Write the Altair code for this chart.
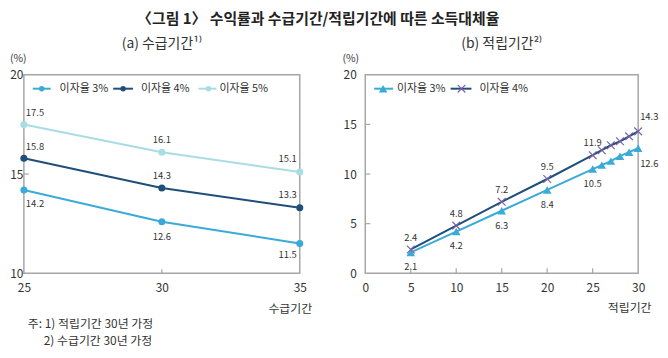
import altair as alt
import pandas as pd

FONT = "Noto Sans CJK KR"
TXT = "#333333"
GRAY = "#A6A6A6"
WA, WB, H = 278, 275, 200

# ---------------- data ----------------
title_text = "〈그림 1〉 수익률과 수급기간/적립기간에 따른 소득대체율"

# panel (a)
a_title = "(a) 수급기간¹⁾"
a_xtitle = "수급기간"
a_x = [25, 30, 35]
a_series = ["이자율 3%", "이자율 4%", "이자율 5%"]
a_3 = [14.2, 12.6, 11.5]
a_4 = [15.8, 14.3, 13.3]
a_5 = [17.5, 16.1, 15.1]
a_colors = ["#3AAAD8", "#1F4E7A", "#A8DDE3"]
a_xticks = [25, 30, 35]
a_yticks = [10, 15, 20]

# panel (b)
b_title = "(b) 적립기간²⁾"
b_xtitle = "적립기간"
b_x = [5, 10, 15, 20, 25, 26, 27, 28, 29, 30]
b_series = ["이자율 3%", "이자율 4%"]
b_3 = [2.1, 4.2, 6.3, 8.4, 10.5, 10.9, 11.3, 11.8, 12.2, 12.6]
b_4 = [2.4, 4.8, 7.2, 9.5, 11.9, 12.4, 12.9, 13.3, 13.8, 14.3]
b_labeled = [5, 10, 15, 20, 25, 30]
b_line_colors = ["#3AAAD8", "#1F4E7A"]
b_marker_colors = ["#3AAAD8", "#7B62A8"]
b_xticks = [0, 5, 10, 15, 20, 25, 30]
b_yticks = [0, 5, 10, 15, 20]

notes = ["주: 1) 적립기간 30년 가정", "2) 수급기간 30년 가정"]
unit = "(%)"

X_PATH = "M-1,-1L1,1M-1,1L1,-1"


def enc_x(domain, ticks, title, w, tdx, ty):
    return alt.X("x:Q", scale=alt.Scale(domain=domain, nice=False, zero=False),
                 axis=alt.Axis(values=ticks, title=title, format="d",
                               titleX=w + tdx, titleY=ty, titleAlign="right",
                               titleBaseline="middle", labelPadding=14,
                               labelBaseline="middle", labelFlush=False))


def enc_y(domain, ticks, pad):
    return alt.Y("y:Q", scale=alt.Scale(domain=domain, nice=False, zero=False),
                 axis=alt.Axis(values=ticks, title=None, format="d",
                               labelPadding=pad, labelBaseline="middle"))


def one(label):
    return pd.DataFrame({"t": [label]})


def txt_layer(label, x, y, size=11, align="left"):
    return alt.Chart(one(label)).mark_text(
        font=FONT, fontSize=size, color=TXT, align=align, baseline="middle"
    ).encode(text="t:N", x=alt.value(x), y=alt.value(y))


# ---------------- panel (a) ----------------
rows = []
for s, vals in zip(a_series, [a_3, a_4, a_5]):
    for xv, yv in zip(a_x, vals):
        h = "l" if xv == min(a_x) else ("r" if xv == max(a_x) else "c")
        v = "b" if s == a_series[0] else "a"
        rows.append({"x": xv, "y": yv, "series": s, "lab": f"{yv:.1f}", "pos": v + h})
a_df = pd.DataFrame(rows)

ax = enc_x([25, 35], a_xticks, a_xtitle, WA, 12, 36)
ay = enc_y([10, 20], a_yticks, 1)
a_col = alt.Color("series:N", scale=alt.Scale(domain=a_series, range=a_colors), legend=None)

a_base = alt.Chart(a_df)
a_layers = [
    a_base.mark_line(strokeWidth=2).encode(x=ax, y=ay, color=a_col, detail="series:N"),
    a_base.mark_circle(size=50, opacity=1).encode(x=ax, y=ay, color=a_col),
]
a_pos = {"al": ("left", 2, -11), "ac": ("center", 0, -12), "ar": ("right", -3, -13),
         "bl": ("left", 2, 14), "bc": ("center", 0, 15), "br": ("right", -3, 12)}
for p, (al, dx, dy) in a_pos.items():
    a_layers.append(
        a_base.transform_filter(alt.datum.pos == p).mark_text(
            font=FONT, fontSize=9.5, color=TXT, align=al, dx=dx, dy=dy, baseline="middle"
        ).encode(x=ax, y=ay, text="lab:N"))
# inward ticks
a_layers.append(alt.Chart(pd.DataFrame({"y": a_yticks[1:-1]})).mark_rule(color=GRAY, strokeWidth=1.2)
                .encode(y=ay, x=alt.value(0), x2=alt.value(5)))
a_layers.append(alt.Chart(pd.DataFrame({"x": a_xticks[1:-1]})).mark_rule(color=GRAY, strokeWidth=1.2)
                .encode(x=ax, y=alt.value(H), y2=alt.value(H - 4)))
# legend
a_leg = [(9, 27, 18, 34), (90, 110, 100, 116), (176, 194, 186, 195)]
for s, c, (x1, x2, xm, xt) in zip(a_series, a_colors, a_leg):
    a_layers.append(alt.Chart(one(s)).mark_rule(color=c, strokeWidth=2)
                    .encode(x=alt.value(x1), x2=alt.value(x2), y=alt.value(14)))
    a_layers.append(alt.Chart(one(s)).mark_circle(color=c, size=30, opacity=1)
                    .encode(x=alt.value(xm), y=alt.value(14)))
    a_layers.append(txt_layer(s, xt + 2, 14, 11))
# texts
a_layers.append(txt_layer(a_title, WA / 2, -31, 14, "center"))
a_layers.append(txt_layer(unit, -14, -16, 10.5))
a_layers.append(txt_layer(notes[0], 4, H + 51, 12))
a_layers.append(txt_layer(notes[1], 20, H + 68, 12))

left = alt.layer(*a_layers).properties(width=WA, height=H)

# ---------------- panel (b) ----------------
rows = []
for s, vals in zip(b_series, [b_3, b_4]):
    for xv, yv in zip(b_x, vals):
        h = "l" if xv == max(b_x) else "c"
        v = "b" if s == b_series[0] else "a"
        rows.append({"x": xv, "y": yv, "series": s,
                     "lab": f"{yv:.1f}" if xv in b_labeled else "", "pos": v + h})
b_df = pd.DataFrame(rows)

bx = enc_x([0, 30], b_xticks, b_xtitle, WB, 13, 35)
by = enc_y([0, 20], b_yticks, 9)
b_col = alt.Color("series:N", scale=alt.Scale(domain=b_series, range=b_line_colors), legend=None)

b_base = alt.Chart(b_df)
b_layers = [
    b_base.mark_line(strokeWidth=2).encode(x=bx, y=by, color=b_col, detail="series:N"),
    b_base.transform_filter(alt.datum.series == b_series[0]).mark_point(
        shape="triangle-up", filled=True, size=75, opacity=1, color=b_marker_colors[0]
    ).encode(x=bx, y=by),
    b_base.transform_filter(alt.datum.series == b_series[1]).mark_point(
        shape=X_PATH, filled=False, size=60, opacity=1, strokeWidth=1.2, color=b_marker_colors[1]
    ).encode(x=bx, y=by),
]
b_pos = {"ac": ("center", 0, -12), "al": ("left", 2, -14),
         "bc": ("center", 0, 15), "bl": ("left", 2, 16)}
for p, (al, dx, dy) in b_pos.items():
    b_layers.append(
        b_base.transform_filter(alt.datum.pos == p).mark_text(
            font=FONT, fontSize=9.5, color=TXT, align=al, dx=dx, dy=dy, baseline="middle"
        ).encode(x=bx, y=by, text="lab:N"))
b_layers.append(alt.Chart(pd.DataFrame({"y": b_yticks[1:-1]})).mark_rule(color=GRAY, strokeWidth=1.2)
                .encode(y=by, x=alt.value(0), x2=alt.value(5)))
b_layers.append(alt.Chart(pd.DataFrame({"x": b_xticks[1:-1]})).mark_rule(color=GRAY, strokeWidth=1.2)
                .encode(x=bx, y=alt.value(H), y2=alt.value(H - 5)))
# legend
b_leg = [(9, 28, 18, 30), (86, 107, 97, 113)]
for i, (s, (x1, x2, xm, xt)) in enumerate(zip(b_series, b_leg)):
    b_layers.append(alt.Chart(one(s)).mark_rule(color=b_line_colors[i], strokeWidth=2)
                    .encode(x=alt.value(x1), x2=alt.value(x2), y=alt.value(14)))
    if i == 0:
        b_layers.append(alt.Chart(one(s)).mark_point(shape="triangle-up", filled=True, size=75,
                                                     opacity=1, color=b_marker_colors[i])
                        .encode(x=alt.value(xm), y=alt.value(14)))
    else:
        b_layers.append(alt.Chart(one(s)).mark_point(shape=X_PATH, filled=False, size=60, opacity=1,
                                                     strokeWidth=1.2, color=b_marker_colors[i])
                        .encode(x=alt.value(xm), y=alt.value(14)))
    b_layers.append(txt_layer(s, xt + 2, 14, 11))
b_layers.append(txt_layer(b_title, WB / 2, -31, 14, "center"))
b_layers.append(txt_layer(unit, -23, -16, 10.5))

right = alt.layer(*b_layers).properties(width=WB, height=H)

chart = alt.hconcat(left, right, spacing=66, bounds="flush").properties(
    title=alt.TitleParams(title_text, font=FONT, fontSize=15, fontWeight="bold",
                          color="#222222", anchor="middle", dx=-16, offset=9),
    padding={"left": 0, "top": 3, "right": 0, "bottom": 0},
).configure_view(stroke=GRAY, strokeWidth=1.5).configure_axis(
    domain=False, ticks=False, grid=False, labelFont=FONT, labelFontSize=12,
    labelColor=TXT, titleFont=FONT, titleFontSize=12, titleFontWeight="normal",
    titleColor=TXT,
)

chart.save("out.html", embed_options={"renderer": "svg", "actions": False})
